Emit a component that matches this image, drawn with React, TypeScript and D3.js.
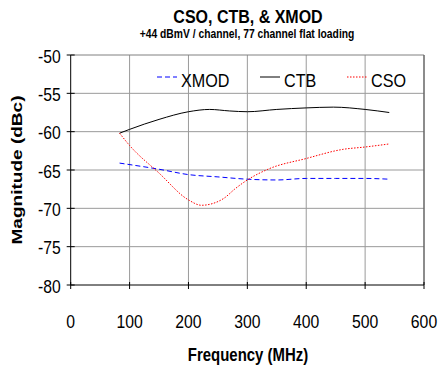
import React from "react";
import * as d3 from "d3";

const xTicks = [0, 100, 200, 300, 400, 500, 600];
const yTicks = [-50, -55, -60, -65, -70, -75, -80];

const ctbFreq = [83, 100, 150, 200, 236, 270, 300, 350, 400, 446, 500, 541];
const ctbVal = [-60.2, -59.7, -58.4, -57.4, -57.1, -57.3, -57.4, -57.1, -56.9, -56.8, -57.1, -57.5];

const csoFreq = [83, 100, 150, 200, 222, 240, 260, 280, 300, 335, 400, 463, 500, 541];
const csoVal = [-60.2, -61.8, -65.4, -68.9, -69.6, -69.4, -68.7, -67.4, -66.3, -64.9, -63.5, -62.3, -62.0, -61.6];

const xmodFreq = [83, 150, 200, 250, 300, 350, 400, 450, 500, 541];
const xmodVal = [-64.1, -64.9, -65.6, -65.9, -66.2, -66.3, -66.1, -66.1, -66.1, -66.2];

const seriesNames = ["XMOD", "CTB", "CSO"];

const FONT = "'Liberation Sans', Arial, sans-serif";

export default function App() {
  const left = 70.7, right = 424, top = 55, bottom = 285;
  const x = d3.scaleLinear().domain([0, 600]).range([left, right]);
  const y = d3.scaleLinear().domain([-80, -50]).range([bottom, top]);

  const mk = (fs: number[], vs: number[]) =>
    d3
      .line<number>()
      .x((_, i) => x(fs[i]))
      .y((v) => y(v))
      .curve(d3.curveMonotoneX)(vs) || "";

  const series = [
    { name: "XMOD", path: mk(xmodFreq, xmodVal), color: "#0000ff", dash: "5,3", lx: 157 },
    { name: "CTB", path: mk(ctbFreq, ctbVal), color: "#000000", dash: undefined, lx: 260 },
    { name: "CSO", path: mk(csoFreq, csoVal), color: "#ff0000", dash: "1.5,1.5", lx: 347 },
  ];

  return (
    <svg
      width={438}
      height={366}
      style={{ position: "absolute", left: 0, top: 0, background: "#fff" }}
      fontFamily={FONT}
    >
      <rect x={0} y={0} width={438} height={366} fill="#fff" />
      {/* grid */}
      {xTicks.slice(1, -1).map((t) => (
        <line key={"gx" + t} x1={x(t)} x2={x(t)} y1={top} y2={bottom} stroke="#9a9a9a" strokeWidth={1} />
      ))}
      {yTicks.slice(1, -1).map((t) => (
        <line key={"gy" + t} x1={left} x2={right} y1={y(t)} y2={y(t)} stroke="#9a9a9a" strokeWidth={1} />
      ))}
      {/* frame */}
      <line x1={left} x2={right} y1={top} y2={top} stroke="#808080" strokeWidth={1} />
      <line x1={right} x2={right} y1={top} y2={bottom} stroke="#666" strokeWidth={1.5} />
      <line x1={left} x2={left} y1={top} y2={bottom} stroke="#000" strokeWidth={1} />
      <line x1={left} x2={right} y1={bottom} y2={bottom} stroke="#000" strokeWidth={1} />
      {/* ticks */}
      {yTicks.map((t) => (
        <g key={"yt" + t}>
          <line x1={left - 4} x2={left + 4} y1={y(t)} y2={y(t)} stroke="#000" />
          <text
            transform={`translate(${left - 10},${y(t) + 7.5}) scale(0.85,1)`}
            textAnchor="end"
            fontSize={18.5}
          >
            {t}
          </text>
        </g>
      ))}
      {xTicks.map((t) => (
        <g key={"xt" + t}>
          <line x1={x(t)} x2={x(t)} y1={bottom - 3} y2={bottom + 4} stroke="#000" />
          <text
            transform={`translate(${x(t)},${327.5}) scale(0.83,1)`}
            textAnchor="middle"
            fontSize={19}
          >
            {t}
          </text>
        </g>
      ))}
      {/* series */}
      {series.map((s) => (
        <path
          key={s.name}
          d={s.path}
          fill="none"
          stroke={s.color}
          strokeWidth={1}
          strokeDasharray={s.dash}
        />
      ))}
      {/* legend */}
      {series.map((s, i) => (
        <g key={"lg" + s.name}>
          <line x1={s.lx} x2={s.lx + 20} y1={77} y2={77} stroke={s.color} strokeWidth={1} strokeDasharray={s.dash} />
          <text
            transform={`translate(${s.lx + 24},${86.7}) scale(0.85,1)`}
            fontSize={19}
          >
            {seriesNames[i]}
          </text>
        </g>
      ))}
      {/* titles */}
      <text transform="translate(248,23) scale(0.89,1)" textAnchor="middle" fontSize={18} fontWeight="bold">
        CSO, CTB, &amp; XMOD
      </text>
      <text transform="translate(247,37.5) scale(0.86,1)" textAnchor="middle" fontSize={12} fontWeight="bold">
        +44 dBmV / channel, 77 channel flat loading
      </text>
      <text transform="translate(248,361) scale(0.83,1)" textAnchor="middle" fontSize={18} fontWeight="bold">
        Frequency (MHz)
      </text>
      <text transform="translate(22,170) rotate(-90) scale(1.27,1)" textAnchor="middle" fontSize={15} fontWeight="bold">
        Magnitude (dBc)
      </text>
    </svg>
  );
}
